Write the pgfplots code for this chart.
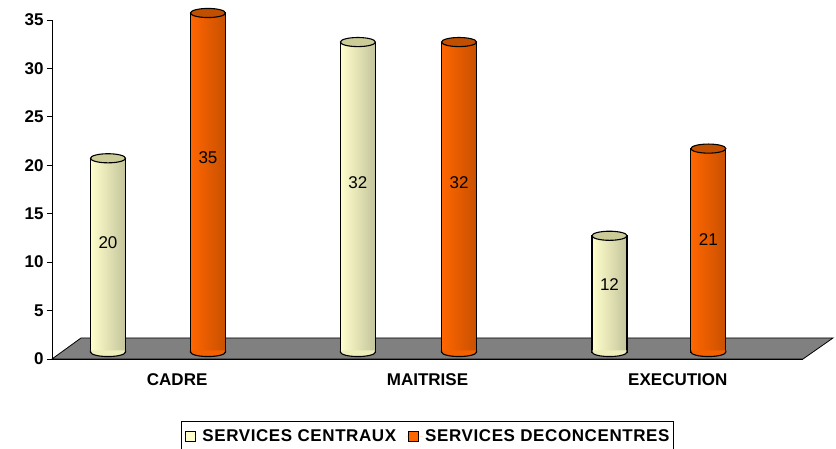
\documentclass[border=0pt]{standalone}
\usepackage{pgfplots}
\pgfplotsset{compat=1.18}
\usepackage{fontspec}
\setmainfont{Liberation Sans}
\newfontfamily\legfont[LetterSpace=3.5]{Liberation Sans}
\definecolor{creamL}{HTML}{FFFFCC}
\definecolor{creamM}{HTML}{EEEEBB}
\definecolor{creamR}{HTML}{C4C49C}
\definecolor{creamT}{HTML}{CCCC99}
\definecolor{orL}{HTML}{FF6600}
\definecolor{orM}{HTML}{F26000}
\definecolor{orR}{HTML}{C85000}
\definecolor{orT}{HTML}{C05000}
\definecolor{floor}{HTML}{808080}
\pgfdeclareplotmark{lowarc}{%
  \pgfpathmoveto{\pgfqpoint{-\pgfplotmarksize}{1.5pt}}%
  \pgfpathlineto{\pgfqpoint{-\pgfplotmarksize}{0pt}}%
  \pgfpatharc{180}{360}{\pgfplotmarksize and 0.26\pgfplotmarksize}%
  \pgfpathlineto{\pgfqpoint{\pgfplotmarksize}{1.5pt}}%
  \pgfusepathqfillstroke}
\begin{document}
\begin{tikzpicture}[x=1pt,y=1pt]
\useasboundingbox (-52,-90) rectangle (784,359);
\begin{axis}[
  at={(0,0)}, anchor=south west,
  scale only axis, width=751pt, height=339pt,
  xmin=0, xmax=3, ymin=0, ymax=35,
  clip=false,
  axis x line=bottom, axis y line=left,
  axis line style={-, black, line width=0.8pt},
  xtick={0.5,1.5,2.5},
  xticklabels={CADRE, MAITRISE, EXECUTION},
  x tick style={draw=none},
  minor xtick={0,1,2,3},
  minor x tick style={black, line width=0.8pt},
  xtick align=outside,
  minor tick length=5pt,
  ytick={0,5,...,35},
  ytick align=outside,
  major tick length=5pt,
  y tick style={black, line width=0.8pt},
  /pgf/number format/assume math mode=true,
  tick label style={font=\fontsize{17}{20}\selectfont\bfseries},
  xticklabel style={yshift=-6pt},
  legend style={at={(0.5,-0.183)}, anchor=north, draw=black, line width=0.6pt,
    font=\legfont\fontsize{17}{20}\selectfont\bfseries, legend columns=2,
    /tikz/every even column/.append style={column sep=8pt},
    inner ysep=6pt, inner xsep=2pt},
  legend image code/.code={\draw[#1, draw=black, line width=0.8pt] (0pt,-5pt) rectangle (10pt,5pt); \path[draw=none] (-2pt,0) -- (15pt,0);},
  cyl/.style={ybar, bar width=35pt, bar shift=0pt, yshift=7pt, draw=black, line width=1.1pt, forget plot},
  creamcyl/.style={cyl, left color=creamL, middle color=creamM, right color=creamR},
  orcyl/.style={cyl, left color=orL, middle color=orM, right color=orR},
  topell/.style={only marks, yshift=7pt, mark=*, mark size=17.5pt,
    mark options={yscale=0.26, fill=#1, draw=black, line width=1.1pt}, forget plot},
  botarc/.style={only marks, yshift=7pt, mark=lowarc, mark size=17.5pt,
    mark options={fill=#1, draw=black, line width=1.1pt}, forget plot},
]
% floor
\fill[floor] (axis cs:0,0) -- (axis cs:3,0) -- ([shift={(30pt,21pt)}]axis cs:3,0) -- ([shift={(29pt,21pt)}]axis cs:0,0) -- cycle;
\draw[black, line width=0.8pt] (axis cs:0,0) -- (axis cs:3,0) -- ([shift={(30pt,21pt)}]axis cs:3,0) -- ([shift={(29pt,21pt)}]axis cs:0,0) -- cycle;
% SERVICES CENTRAUX
\addplot[creamcyl] coordinates {(0.2237,20)};
\addplot[creamcyl] coordinates {(1.222,32)};
\addplot[creamcyl] coordinates {(2.227,12)};
\addplot[topell=creamT] coordinates {(0.2237,20) (1.222,32) (2.227,12)};
\addplot[botarc=creamM] coordinates {(0.2237,0) (1.222,0) (2.227,0)};
% SERVICES DECONCENTRES
\addplot[orcyl] coordinates {(0.623,35)};
\addplot[orcyl] coordinates {(1.626,32)};
\addplot[orcyl] coordinates {(2.622,21)};
\addplot[topell=orT] coordinates {(0.623,35) (1.626,32) (2.622,21)};
\addplot[botarc=orM] coordinates {(0.623,0) (1.626,0) (2.622,0)};
% value labels
\addplot[draw=none, mark=none, nodes near coords, point meta=explicit symbolic,
  every node near coord/.append style={anchor=center, font=\fontsize{17}{20}\selectfont}, forget plot]
  coordinates {(0.2237,11.98)[20] (0.623,20.75)[35] (1.222,18.17)[32] (1.626,18.2)[32] (2.227,7.64)[12] (2.622,12.29)[21]};
\addlegendimage{fill=creamL}
\addlegendentry{SERVICES CENTRAUX}
\addlegendimage{fill=orL}
\addlegendentry{SERVICES DECONCENTRES}
\end{axis}
\end{tikzpicture}
\end{document}
